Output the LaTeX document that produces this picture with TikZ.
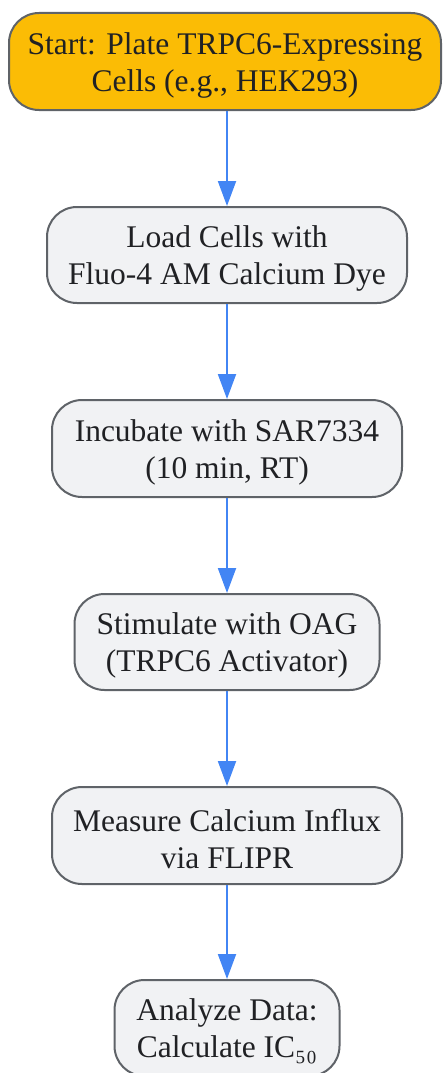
\documentclass[tikz,border=0pt]{standalone}
\usepackage{fontspec}
\setmainfont{Liberation Serif}
\usetikzlibrary{arrows.meta}
\definecolor{startfill}{RGB}{251,188,5}
\definecolor{boxfill}{RGB}{241,242,244}
\definecolor{boxdraw}{RGB}{95,99,104}
\definecolor{arrowblue}{RGB}{66,133,244}
\definecolor{textcol}{RGB}{32,33,36}
\tikzset{
  x=1pt, y=1pt,
  stepbox/.style={draw=boxdraw, line width=2pt, fill=boxfill, rounded corners=30pt,
    inner sep=0pt},
  startbox/.style={stepbox, fill=startfill},
  steptext/.style={align=center, text=textcol, font=\fontsize{31.5}{37}\selectfont,
    inner sep=0pt, yshift=-3.5pt},
  flow/.style={draw=arrowblue, line width=2pt, -{Triangle[length=25pt,width=18pt]}}
}
\begin{document}
\begin{tikzpicture}
\useasboundingbox (0,0) rectangle (443,-1073);
\node[startbox, minimum width=432pt, minimum height=97pt,
  label={[steptext]center:{Start: Plate TRPC6-Expressing\\Cells (e.g., HEK293)}}] (s1) at (225,-61.5) {};
\node[stepbox, minimum width=360pt, minimum height=96pt,
  label={[steptext]center:{Load Cells with\\Fluo-4 AM Calcium Dye}}] (s2) at (227,-255) {};
\node[stepbox, minimum width=350pt, minimum height=97pt,
  label={[steptext]center:{Incubate with SAR7334\\(10 min, RT)}}] (s3) at (227,-448.5) {};
\node[stepbox, minimum width=305pt, minimum height=96pt,
  label={[steptext]center:{Stimulate with OAG\\(TRPC6 Activator)}}] (s4) at (227,-642) {};
\node[stepbox, minimum width=350pt, minimum height=97pt,
  label={[steptext]center:{Measure Calcium Influx\\via FLIPR}}] (s5) at (227,-835.5) {};
\node[stepbox, minimum width=225pt, minimum height=96pt,
  label={[steptext]center:{Analyze Data:\\Calculate IC₅₀}}] (s6) at (227,-1028) {};
\draw[flow] (s1.south -| s2.north) -- (s2.north);
\draw[flow] (s2) -- (s3);
\draw[flow] (s3) -- (s4);
\draw[flow] (s4) -- (s5);
\draw[flow] (s5) -- (s6);
\end{tikzpicture}
\end{document}
